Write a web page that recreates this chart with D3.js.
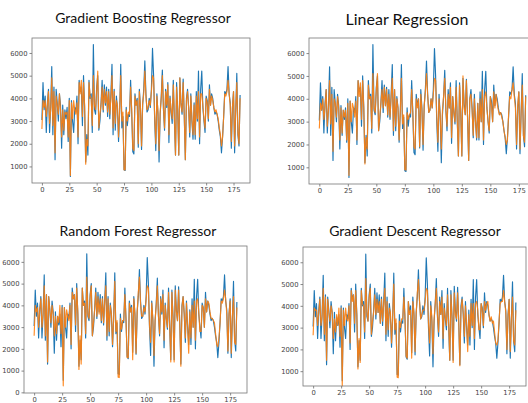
<!DOCTYPE html>
<html><head><meta charset="utf-8">
<script src="https://cdn.jsdelivr.net/npm/d3@7"></script>
<style>
html,body{margin:0;padding:0;background:#fff;}
svg{display:block;}
.tick text{font-family:"DejaVu Sans",sans-serif;font-size:6.8px;fill:#444;}
.title{font-family:Lato,"Open Sans",sans-serif;fill:#111;}
</style></head>
<body>
<script>
// ---------- data ----------
const titles = ["Gradient Boosting Regressor","Linear Regression","Random Forest Regressor","Gradient Descent Regressor"];
const xTicks = [0,25,50,75,100,125,150,175];
const yTicksTop = [1000,2000,3000,4000,5000,6000];
const yTicksRF = [0,1000,2000,3000,4000,5000,6000];
const yTicksGD = [1000,2000,3000,4000,5000,6000];

const actual = [
3050,4700,3500,4100,2500,3800,4400,2500,3600,5400,2400,4500,1300,4400,3800,3000,4200,3700,1800,3700,
2400,3500,3100,3600,2100,4000,560,3900,3000,2500,3600,3400,4100,2000,4800,4300,4500,2800,5000,3600,
1200,2400,1500,4800,4000,4200,2500,6370,3500,3300,4500,5000,2600,3000,3800,4800,3400,4600,3700,4500,
3200,4400,3100,4200,5500,2400,4400,2600,4100,3600,2100,3400,5500,2700,3200,850,820,3600,2800,3300,
3200,4800,3400,1650,1550,4200,3700,4000,1850,4400,3600,1750,3700,4400,5650,4200,3400,3500,4000,3600,
4400,6200,5000,3000,1700,4200,3300,1200,3300,4100,5250,3500,2600,4400,3600,4700,2050,4100,3400,2900,
4800,3000,1500,4700,3500,1500,4900,3800,3300,4850,3200,1300,4000,4400,3600,2300,4200,3000,2200,3800,
2200,4300,3000,5200,2000,4400,5200,3600,3000,2500,4100,3900,3000,4600,3700,4200,4000,3600,3300,3400,
3300,3000,2600,2300,1600,2300,3200,4300,4200,4400,5400,4200,3800,1800,3600,4300,1600,3400,5100,2400,1900,4150];

const predGB = [
2650,3900,3600,3900,3200,3700,4300,2900,3500,4900,2800,4300,1600,4100,3700,3300,4200,3500,2300,3500,
2600,3400,3300,3400,2300,3900,600,3800,3100,3900,3500,3300,3800,2300,4700,4200,4800,3200,4700,3700,
1100,2200,1900,4700,4100,4000,2800,5000,3700,3500,4300,5200,2700,3300,3700,4500,3500,4400,3800,4300,
3400,4300,3300,4000,5000,2700,4300,2900,3900,3700,2300,3500,5000,3000,3400,850,850,3500,3000,3400,
3300,4500,3500,1800,1700,4100,3700,3900,2000,4300,3600,1900,3800,4200,5200,4100,3500,3600,3900,3700,
4300,5000,4900,3200,2000,4100,3400,1700,3400,4000,5000,3600,2700,4300,3700,4600,2400,4000,3500,3100,
4600,3200,1500,4500,3500,1500,4900,3700,3400,4700,3300,1300,3900,4300,3600,2500,4100,3100,2400,3700,
2400,4100,3100,4300,2300,4200,4200,3700,3100,2700,4000,3800,3100,4400,3700,4100,3900,3600,3400,3500,
3300,3100,2700,2400,1900,2300,3200,4200,4100,4300,4800,4200,3700,2100,3600,4300,1900,3500,4700,2500,2000,4000];

const predLR = [
2700,3800,3500,4000,3100,3600,4400,2800,3500,4800,2900,4200,1700,4000,3800,3200,4100,3600,2200,3600,
2500,3500,3200,3500,2200,3800,650,3900,3000,3800,3600,3200,3900,2200,4800,4100,4700,3100,4800,3600,
1150,2300,1800,4600,4000,4100,2700,5100,3600,3400,4400,5100,2600,3200,3800,4400,3600,4500,3700,4400,
3300,4200,3200,4100,4900,2600,4400,2800,4000,3600,2200,3400,4900,2900,3300,900,880,3400,3100,3300,
3400,4400,3400,1900,1800,4000,3600,4000,1900,4200,3500,2000,3700,4300,5100,4200,3400,3500,4000,3600,
4200,4900,4800,3300,2100,4000,3300,1800,3500,4100,4900,3500,2800,4200,3600,4500,2300,4100,3400,3000,
4500,3100,1500,4600,3400,1500,5000,3600,3300,4800,3200,1300,4000,4200,3500,2400,4000,3000,2300,3800,
2300,4000,3000,4400,2200,4100,4300,3600,3000,2600,4100,3700,3000,4300,3600,4200,3800,3500,3300,3400,
3200,3000,2600,2300,2000,2200,3300,4100,4000,4400,4700,4100,3600,2000,3700,4300,1800,3400,4600,2400,2100,4100];

const predRF = [
2600,4000,3700,3900,3000,3800,4300,3000,3600,4900,2600,4500,1400,4400,3800,3200,4000,3600,2600,3500,
2700,3500,3200,4000,2700,3900,300,3900,3000,3800,3500,3300,4000,2200,4600,4300,4500,3100,4800,3700,
1050,2600,1300,4800,4000,4100,2700,5300,3600,3400,4400,4900,2600,3200,3800,4600,3500,4400,3600,4300,
3300,4300,3200,4200,4900,2600,4300,2800,4000,3600,2200,3400,5100,2800,3300,700,680,3400,2900,3300,
3300,4500,3400,1600,1600,4100,3700,3900,1500,4300,3600,1800,3700,4600,5300,4100,3500,3500,3900,3700,
4300,4900,4800,3100,2300,4100,3400,1700,3300,4000,4900,3500,2700,4300,3700,4500,2400,4000,3400,3000,
4600,3100,1400,4600,3400,1400,4700,3700,3300,4700,3200,1200,3900,4400,3600,2500,4100,3100,1800,3700,
2500,4000,3000,4200,2400,4200,4300,3700,2800,2800,4000,3900,3000,4300,3700,4200,4100,3700,3400,3400,
3300,3200,2700,2200,2100,2500,3200,4200,4100,4300,4700,4300,3600,1900,3600,4200,1800,3500,4400,2300,2200,3900];

const predGD = [
2650,3900,3800,3800,3100,3700,4300,3100,3500,4800,2700,4400,1500,4300,3700,3300,4000,3700,2500,3400,
2800,3600,3100,3900,2600,3900,330,3800,3100,3900,3400,3300,4000,2300,4700,4200,4500,3200,4700,3600,
1100,2500,1400,4700,4100,4000,2800,5250,3700,3300,4400,4800,2700,3300,3700,4500,3600,4300,3700,4200,
3200,4300,3300,4100,4800,2700,4200,2900,3900,3700,2300,3500,5000,2900,3400,720,700,3300,3000,3400,
3400,4400,3500,1700,1600,4200,3600,3800,1600,4200,3700,1900,3600,4600,5200,4200,3400,3600,3800,3800,
4200,4800,4700,3200,2300,4000,3500,1800,3400,4100,4800,3600,2800,4200,3600,4400,2500,3900,3500,3100,
4500,3200,1500,4500,3500,1400,4600,3600,3400,4600,3300,1250,3800,4300,3700,2600,4000,3200,1900,3600,
2600,4100,3100,4100,2500,4100,4200,3800,2900,2900,4100,3800,3100,4200,3800,4100,4200,3600,3300,3500,
3200,3300,2800,2300,2200,2400,3300,4100,4200,4200,4700,4200,3700,2000,3500,4300,1900,3400,4400,2400,2200,3800];

// ---------- layout ----------
const W = 528, H = 403;
const panels = [
  {title:titles[0], pred:predGB, yTicks:yTicksTop, yDom:[270,6660], L:32, R:250, T:38, B:183, tx:143, ty:23, fs:14},
  {title:titles[1], pred:predLR, yTicks:yTicksTop, yDom:[270,6660], L:309, R:536, T:38, B:184, tx:407, ty:25, fs:16},
  {title:titles[2], pred:predRF, yTicks:yTicksRF, yDom:[-30,6730], L:24, R:247, T:246, B:393, tx:138, ty:236, fs:14},
  {title:titles[3], pred:predGD, yTicks:yTicksGD, yDom:[320,6700], L:303, R:526, T:247, B:386, tx:415, ty:236, fs:14}
];

const svg = d3.select("body").append("svg").attr("width", W).attr("height", H);

panels.forEach(p => {
  const x = d3.scaleLinear().domain([-9.05, 190.05]).range([p.L, p.R]);
  const y = d3.scaleLinear().domain(p.yDom).range([p.B, p.T]);
  const g = svg.append("g");

  const line = d3.line().x((d,i)=>x(i)).y(d=>y(d));
  g.append("path").datum(actual).attr("d", line)
    .attr("fill","none").attr("stroke","#1f77b4").attr("stroke-width",1.15).attr("stroke-linejoin","round");
  g.append("path").datum(p.pred).attr("d", line)
    .attr("fill","none").attr("stroke","#ff7f0e").attr("stroke-width",1.15).attr("stroke-linejoin","round")
    .attr("stroke-opacity",0.9);

  const xa = g.append("g").attr("transform",`translate(0,${p.B})`)
    .call(d3.axisBottom(x).tickValues(xTicks).tickSize(2.5).tickPadding(2).tickFormat(d3.format("d")));
  const ya = g.append("g").attr("transform",`translate(${p.L},0)`)
    .call(d3.axisLeft(y).tickValues(p.yTicks).tickSize(2.5).tickPadding(2).tickFormat(d3.format("d")));
  [xa,ya].forEach(a=>{ a.select(".domain").remove(); a.selectAll("line").attr("stroke","#555").attr("stroke-width",0.7); });

  g.append("rect").attr("x",p.L).attr("y",p.T).attr("width",p.R-p.L).attr("height",p.B-p.T)
    .attr("fill","none").attr("stroke","#777").attr("stroke-width",0.8);

  svg.append("text").attr("class","title").attr("x",p.tx).attr("y",p.ty)
    .attr("text-anchor","middle").style("font-size",p.fs+"px").text(p.title);
});
</script>
</body></html>
